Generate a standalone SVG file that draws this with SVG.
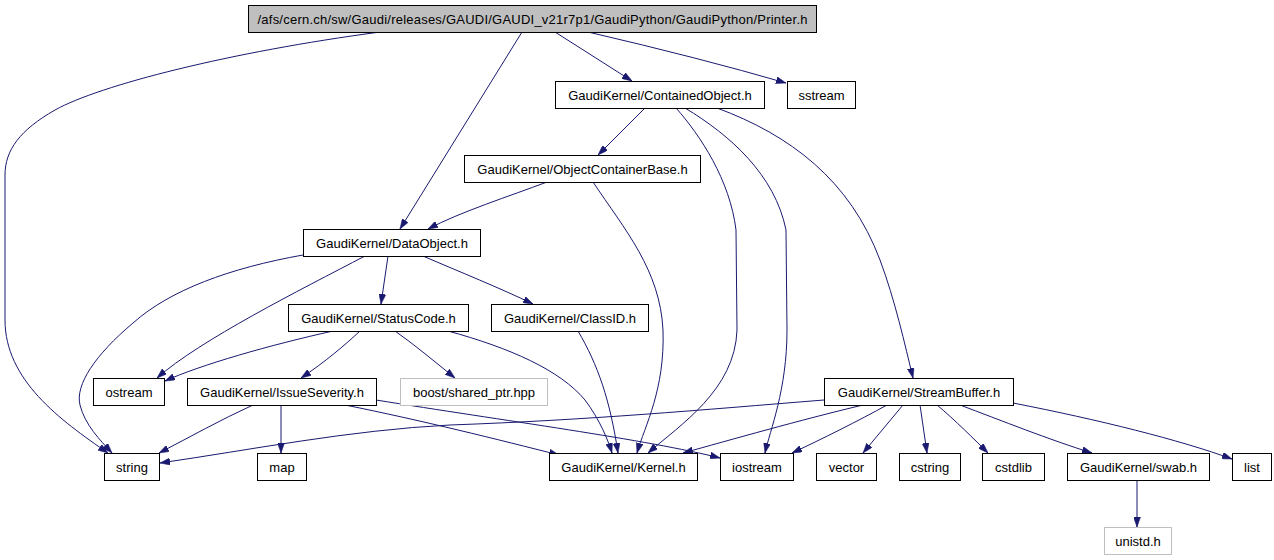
<svg xmlns="http://www.w3.org/2000/svg" width="1274" height="560" viewBox="0 0 1274 560">
<style>
.n rect{fill:#fff;stroke:#000;stroke-width:1}
.n.g rect{stroke:#bfbfbf}
.n.root rect{fill:#bfbfbf}
.n text{font-family:"Liberation Sans",Arial,sans-serif;font-size:13px;fill:#000;text-anchor:middle}
.e path{fill:none;stroke:#191970;stroke-width:1;marker-end:url(#ah)}
</style>
<defs>
<marker id="ah" viewBox="0 0 10 7" refX="10" refY="3.5" markerWidth="10" markerHeight="7" markerUnits="userSpaceOnUse" orient="auto">
<path d="M0,0 L10,3.5 L0,7 z" fill="#191970" stroke="#191970" stroke-width="0.5"/>
</marker>
</defs>
<rect width="1274" height="560" fill="#fff"/>
<g class="e">
<path d="M380,32 C230,52 100,85 55,110 C20,130 5,150 5,175 L5,320 C5,380 60,420 108,453"/>
<path d="M522,32 L400,229"/>
<path d="M555,32 L632,81"/>
<path d="M588,32 Q700,58 786,83"/>
<path d="M645,108 L598,155"/>
<path d="M676,108 C700,135 730,180 736,230 L737,330 C735,390 680,425 648,453"/>
<path d="M685,108 C730,135 775,175 786,230 L787,330 C787,390 770,430 765,453"/>
<path d="M717,108 C790,135 850,180 880,260 C895,300 905,345 913,378"/>
<path d="M547,182 C510,196 460,212 428,229"/>
<path d="M593,182 C625,230 660,270 663,330 C665,390 645,425 637,453"/>
<path d="M303,255 C230,268 170,290 133,323 C95,355 75,385 80,405 C85,425 100,440 112,453"/>
<path d="M365,256 C300,290 200,340 157,378"/>
<path d="M388,256 L381,304"/>
<path d="M423,256 C460,272 500,288 533,304"/>
<path d="M333,331 C270,345 200,365 165,381"/>
<path d="M360,331 C345,345 325,362 301,378"/>
<path d="M395,331 C415,345 435,362 455,378"/>
<path d="M448,331 C510,348 560,370 585,400 C600,420 608,440 612,453"/>
<path d="M578,331 C598,365 610,400 618,453"/>
<path d="M253,405 C220,420 190,437 159,453"/>
<path d="M281,405 L281,453"/>
<path d="M345,405 C420,420 500,440 559,455"/>
<path d="M376,400 C500,420 650,440 720,458"/>
<path d="M824,400 C700,410 590,420 450,425 C350,430 250,450 160,463"/>
<path d="M863,405 C800,420 730,440 683,453"/>
<path d="M887,405 C860,420 820,440 792,453"/>
<path d="M903,405 L863,453"/>
<path d="M920,405 L927,453"/>
<path d="M937,405 C955,420 975,440 988,453"/>
<path d="M960,405 C1000,420 1050,440 1092,453"/>
<path d="M1013,403 C1100,420 1180,440 1232,459"/>
<path d="M1137,480 L1137,527"/>
</g>
<g id="printer" class="n root"><rect x="248.5" y="5.5" width="568" height="27"/><text x="532.5" y="23.5" textLength="550" lengthAdjust="spacing">/afs/cern.ch/sw/Gaudi/releases/GAUDI/GAUDI_v21r7p1/GaudiPython/GaudiPython/Printer.h</text></g>
<g id="containedobject" class="n"><rect x="555.5" y="81.5" width="209" height="27"/><text x="660" y="99.5">GaudiKernel/ContainedObject.h</text></g>
<g id="sstream" class="n"><rect x="787.5" y="81.5" width="68" height="27"/><text x="821.5" y="99.5">sstream</text></g>
<g id="objectcontainerbase" class="n"><rect x="464.5" y="155.5" width="236" height="27"/><text x="582.5" y="173.5">GaudiKernel/ObjectContainerBase.h</text></g>
<g id="dataobject" class="n"><rect x="303.5" y="229.5" width="177" height="27"/><text x="392" y="247.5">GaudiKernel/DataObject.h</text></g>
<g id="statuscode" class="n"><rect x="288.5" y="304.5" width="180" height="27"/><text x="378.5" y="322.5">GaudiKernel/StatusCode.h</text></g>
<g id="classid" class="n"><rect x="491.5" y="304.5" width="157" height="27"/><text x="570" y="322.5">GaudiKernel/ClassID.h</text></g>
<g id="ostream" class="n"><rect x="93.5" y="378.5" width="71" height="27"/><text x="129" y="396.5">ostream</text></g>
<g id="issueseverity" class="n"><rect x="187.5" y="378.5" width="189" height="27"/><text x="282" y="396.5">GaudiKernel/IssueSeverity.h</text></g>
<g id="boost" class="n g"><rect x="400.5" y="378.5" width="147" height="27"/><text x="474" y="396.5">boost/shared_ptr.hpp</text></g>
<g id="streambuffer" class="n"><rect x="824.5" y="378.5" width="189" height="27"/><text x="919" y="396.5">GaudiKernel/StreamBuffer.h</text></g>
<g id="string" class="n"><rect x="104.5" y="453.5" width="55" height="27"/><text x="132" y="471.5">string</text></g>
<g id="map" class="n"><rect x="257.5" y="453.5" width="49" height="27"/><text x="282" y="471.5">map</text></g>
<g id="kernel" class="n"><rect x="549.5" y="453.5" width="148" height="27"/><text x="623.5" y="471.5">GaudiKernel/Kernel.h</text></g>
<g id="iostream" class="n"><rect x="720.5" y="453.5" width="73" height="27"/><text x="757" y="471.5">iostream</text></g>
<g id="vector" class="n"><rect x="816.5" y="453.5" width="60" height="27"/><text x="846.5" y="471.5">vector</text></g>
<g id="cstring" class="n"><rect x="899.5" y="453.5" width="61" height="27"/><text x="930" y="471.5">cstring</text></g>
<g id="cstdlib" class="n"><rect x="982.5" y="453.5" width="62" height="27"/><text x="1013.5" y="471.5">cstdlib</text></g>
<g id="swab" class="n"><rect x="1067.5" y="453.5" width="142" height="27"/><text x="1138.5" y="471.5">GaudiKernel/swab.h</text></g>
<g id="list" class="n"><rect x="1232.5" y="453.5" width="39" height="27"/><text x="1252" y="471.5">list</text></g>
<g id="unistd" class="n g"><rect x="1104.5" y="527.5" width="67" height="27"/><text x="1138" y="545.5">unistd.h</text></g>
</svg>
